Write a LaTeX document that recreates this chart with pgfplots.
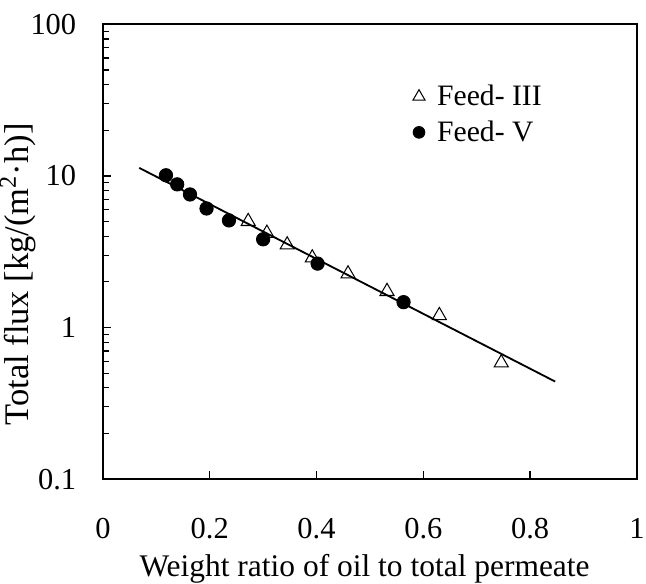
\documentclass[border=0pt]{standalone}
\usepackage{pgfplots}
\pgfplotsset{compat=1.18}
\usepackage{fontspec}
\setmainfont{Liberation Serif}
\pgfplotsset{
    smallmark/.style={legend image code/.code={\draw[##1, mark size=#1] plot coordinates {(0.1cm,0cm)};}},
}
\begin{document}
\begin{tikzpicture}
\begin{axis}[
    scale only axis,
    width=263pt, height=224pt,
    ymode=log,
    xmin=0, xmax=1, ymin=0.1, ymax=100,
    xtick={0,0.2,0.4,0.6,0.8,1},
    xticklabels={0,0.2,0.4,0.6,0.8,1},
    ytick={0.1,1,10,100},
    yticklabels={0.1,1,10,100},
    minor ytick={},
    tick align=inside,
    xtick pos=bottom, ytick pos=left,
    major tick length=4pt,
    axis line style={line width=0.9pt},
    tick style={black, line width=0.6pt},
    /pgf/number format/assume math mode=true,
    tick label style={font=\fontsize{15}{18}\selectfont},
    xticklabel style={anchor=north, inner sep=0pt, yshift=-19pt},
    yticklabel style={anchor=east, inner sep=0pt, xshift=-13pt},
    xlabel={Weight ratio of oil to total permeate},
    ylabel={Total flux [kg/(m\textsuperscript{2}·h)]},
    xlabel style={font=\fontsize{15.5}{18}\selectfont, at={(axis description cs:0.49,0)},
        anchor=base, inner sep=0pt, yshift=-48pt},
    ylabel style={font=\fontsize{17}{20}\selectfont, at={(axis description cs:-0.159,0.45)},
        anchor=center, inner sep=0pt},
    legend style={draw=none, fill=none, at={(axis description cs:0.58,0.877)}, anchor=north west,
        inner sep=0pt, font=\fontsize{14.6}{18}\selectfont, row sep=2pt,
        /tikz/every odd column/.append style={column sep=4pt}},
    legend cell align=left,
]
\addplot[black, line width=0.9pt, forget plot] coordinates {(0.068,11.3) (0.847,0.44)};
\addplot[only marks, mark=triangle, mark size=4pt, black, line width=0.5pt, smallmark=3.4pt]
coordinates {
    (0.272,5.01) (0.307,4.19) (0.345,3.51) (0.392,2.88)
    (0.459,2.26) (0.532,1.73) (0.630,1.20) (0.746,0.585)
};
\addlegendentry{Feed- III}
\addplot[only marks, mark=*, mark size=3.3pt, black, smallmark=2.9pt]
coordinates {
    (0.118,10.1) (0.139,8.8) (0.163,7.55) (0.194,6.1)
    (0.236,5.09) (0.300,3.82) (0.402,2.64) (0.563,1.47)
};
\addlegendentry{Feed- V}
\end{axis}
\path ([yshift=12pt]current axis.north) ([xshift=4.5pt]current axis.east);
\end{tikzpicture}
\end{document}
